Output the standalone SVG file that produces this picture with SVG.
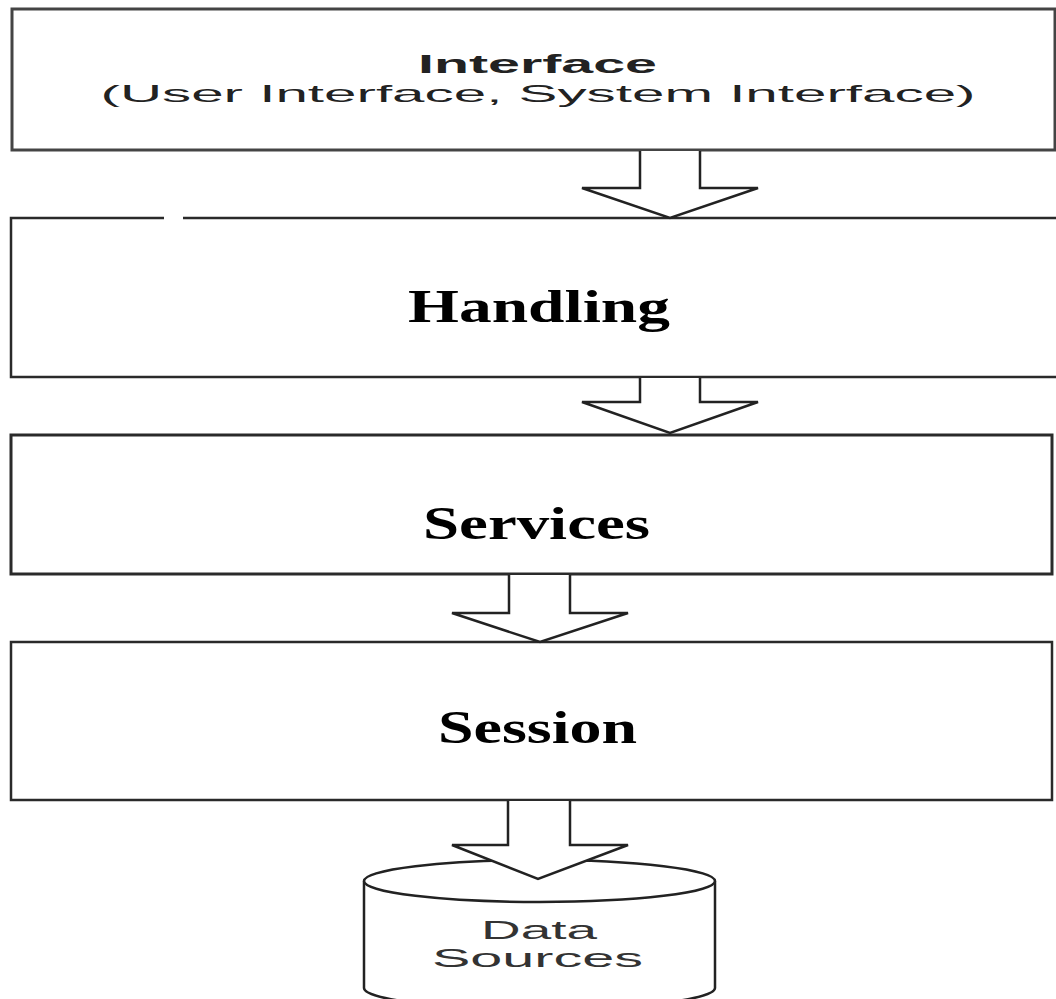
<svg xmlns="http://www.w3.org/2000/svg" width="1056" height="999" viewBox="0 0 1056 999">
<style>
.box{fill:#fff;stroke:#2a2a2a;stroke-width:2.5}
.arrow{fill:#fff;stroke:#222;stroke-width:2.5;stroke-linejoin:miter}
.sans{font-family:"Liberation Sans",Arial,sans-serif;fill:#222;text-anchor:middle}
.serif{font-family:"Liberation Serif","Times New Roman",serif;font-weight:bold;font-size:47px;fill:#000;text-anchor:middle}
</style>
<rect width="1056" height="999" fill="#fff"/>
<g id="interface">
<rect class="box" x="12" y="9" width="1043" height="141" style="stroke:#444;stroke-width:3"/>
<text class="sans" x="537.5" y="73" font-size="26" font-weight="bold" textLength="239" lengthAdjust="spacingAndGlyphs">Interface</text>
<text class="sans" x="538" y="102" font-size="24" textLength="875" lengthAdjust="spacingAndGlyphs">(User Interface, System Interface)</text>
</g>
<g id="handling">
<rect class="box" x="11" y="218" width="1060" height="159"/>
<rect x="164" y="215" width="19" height="6" fill="#fff"/>
<text class="serif" x="539" y="322" textLength="262" lengthAdjust="spacingAndGlyphs">Handling</text>
</g>
<g id="services">
<rect class="box" x="11" y="435" width="1041" height="139" style="stroke-width:3"/>
<text class="serif" x="536.5" y="539" textLength="227" lengthAdjust="spacingAndGlyphs">Services</text>
</g>
<g id="session">
<rect class="box" x="11" y="642" width="1041" height="158"/>
<text class="serif" x="537.5" y="743" textLength="199" lengthAdjust="spacingAndGlyphs">Session</text>
</g>
<g id="datasources">
<path d="M364,881 V988 A175.5,21 0 0 0 715,988 V881" fill="#fff" stroke="#222" stroke-width="2.5"/>
<ellipse cx="539.5" cy="881" rx="175.5" ry="21" fill="#fff" stroke="#222" stroke-width="2.5"/>
<text class="sans" x="539" y="939" font-size="25" textLength="116" lengthAdjust="spacingAndGlyphs" style="fill:#333">Data</text>
<text class="sans" x="537.5" y="967" font-size="25" textLength="211" lengthAdjust="spacingAndGlyphs" style="fill:#333">Sources</text>
</g>
<g id="connectors">
<path class="arrow" d="M640,151 V188 H582 L670,218 L758,188 H700 V151"/>
<path class="arrow" d="M640,378 V402 H582 L670,433 L758,402 H700 V378"/>
<path class="arrow" d="M509,575 V613 H452 L540,642 L628,613 H570 V575"/>
<path class="arrow" d="M508,801 V845 H452 L538,879 L628,845 H570 V801"/>
</g>
</svg>
